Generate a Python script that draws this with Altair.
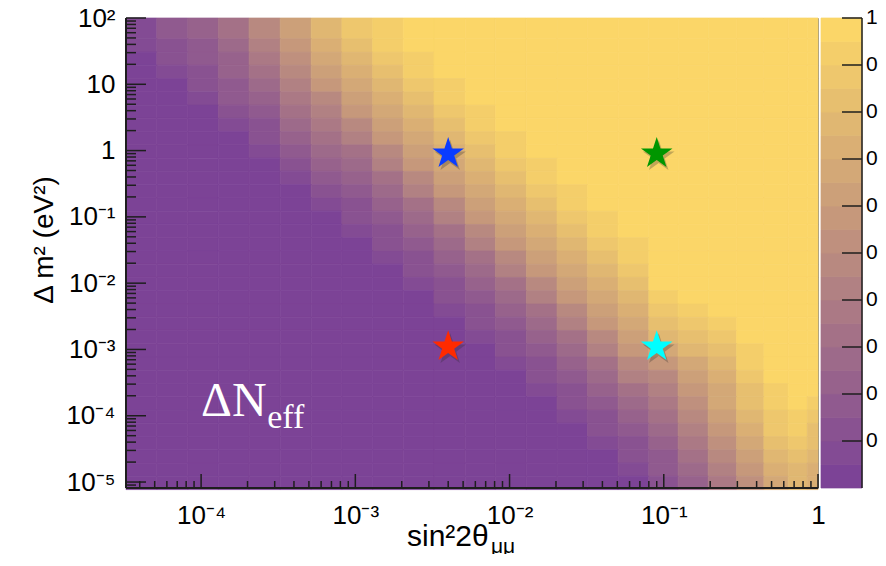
import altair as alt
import pandas as pd

# ---------------- data ----------------
# bin edges of the histogram, log10(sin^2 2theta), left -> right
x_edges_log = [-4.487, -4.287, -4.086, -3.888, -3.689, -3.487, -3.286, -3.087,
               -2.888, -2.689, -2.490, -2.287, -2.092, -1.891, -1.692, -1.495,
               -1.296, -1.097, -0.907, -0.712, -0.528, -0.351, -0.193, -0.070, 0.0]
# bin edges, log10(dm^2 / eV^2), top -> bottom
y_edges_log = [2.086, 1.686, 1.486, 1.286, 1.086, 0.886, 0.686, 0.486, 0.286, 0.086,
               -0.114, -0.314, -0.514, -0.714, -0.914, -1.114, -1.314, -1.514, -1.714, -1.914,
               -2.114, -2.314, -2.514, -2.714, -2.914, -3.114, -3.314, -3.514, -3.714, -3.914,
               -4.114, -4.314, -4.514, -4.714, -4.914, -5.114]
# Delta N_eff in percent; rows top -> bottom, columns left -> right
dneff_pct = [
    [7, 17, 22, 32, 47, 62, 77, 87, 92, 100, 100, 100, 100, 100, 100, 100, 100, 100, 100, 100, 100, 100, 100, 100],
    [7, 12, 17, 27, 42, 57, 72, 82, 92, 100, 100, 100, 100, 100, 100, 100, 100, 100, 100, 100, 100, 100, 100, 100],
    [0, 12, 17, 22, 37, 52, 67, 77, 87, 92, 100, 100, 100, 100, 100, 100, 100, 100, 100, 100, 100, 100, 100, 100],
    [0, 7, 12, 22, 32, 47, 62, 72, 82, 92, 100, 100, 100, 100, 100, 100, 100, 100, 100, 100, 100, 100, 100, 100],
    [0, 0, 12, 17, 27, 42, 57, 67, 77, 87, 92, 100, 100, 100, 100, 100, 100, 100, 100, 100, 100, 100, 100, 100],
    [0, 0, 7, 17, 22, 37, 47, 62, 72, 82, 92, 100, 100, 100, 100, 100, 100, 100, 100, 100, 100, 100, 100, 100],
    [0, 0, 0, 12, 17, 32, 42, 57, 67, 77, 87, 92, 100, 100, 100, 100, 100, 100, 100, 100, 100, 100, 100, 100],
    [0, 0, 0, 7, 12, 27, 37, 47, 62, 72, 82, 92, 100, 100, 100, 100, 100, 100, 100, 100, 100, 100, 100, 100],
    [0, 0, 0, 0, 12, 22, 32, 42, 57, 67, 77, 87, 92, 100, 100, 100, 100, 100, 100, 100, 100, 100, 100, 100],
    [0, 0, 0, 0, 7, 17, 27, 32, 47, 62, 72, 82, 92, 100, 100, 100, 100, 100, 100, 100, 100, 100, 100, 100],
    [0, 0, 0, 0, 0, 12, 22, 27, 42, 57, 67, 77, 87, 92, 100, 100, 100, 100, 100, 100, 100, 100, 100, 100],
    [0, 0, 0, 0, 0, 7, 17, 22, 32, 47, 62, 72, 82, 92, 100, 100, 100, 100, 100, 100, 100, 100, 100, 100],
    [0, 0, 0, 0, 0, 0, 12, 17, 27, 42, 57, 67, 77, 87, 92, 100, 100, 100, 100, 100, 100, 100, 100, 100],
    [0, 0, 0, 0, 0, 0, 7, 12, 22, 32, 47, 62, 72, 82, 92, 100, 100, 100, 100, 100, 100, 100, 100, 100],
    [0, 0, 0, 0, 0, 0, 0, 12, 17, 27, 42, 57, 67, 77, 87, 92, 100, 100, 100, 100, 100, 100, 100, 100],
    [0, 0, 0, 0, 0, 0, 0, 7, 12, 22, 32, 47, 62, 72, 82, 92, 100, 100, 100, 100, 100, 100, 100, 100],
    [0, 0, 0, 0, 0, 0, 0, 0, 12, 17, 27, 42, 57, 67, 77, 87, 92, 100, 100, 100, 100, 100, 100, 100],
    [0, 0, 0, 0, 0, 0, 0, 0, 7, 12, 22, 32, 47, 62, 72, 82, 92, 100, 100, 100, 100, 100, 100, 100],
    [0, 0, 0, 0, 0, 0, 0, 0, 0, 12, 17, 27, 42, 57, 67, 77, 87, 100, 100, 100, 100, 100, 100, 100],
    [0, 0, 0, 0, 0, 0, 0, 0, 0, 7, 12, 22, 32, 47, 62, 72, 82, 100, 100, 100, 100, 100, 100, 100],
    [0, 0, 0, 0, 0, 0, 0, 0, 0, 0, 12, 17, 27, 42, 57, 67, 77, 92, 100, 100, 100, 100, 100, 100],
    [0, 0, 0, 0, 0, 0, 0, 0, 0, 0, 7, 12, 22, 32, 47, 62, 72, 87, 92, 100, 100, 100, 100, 100],
    [0, 0, 0, 0, 0, 0, 0, 0, 0, 0, 0, 12, 17, 27, 42, 57, 67, 82, 87, 92, 100, 100, 100, 100],
    [0, 0, 0, 0, 0, 0, 0, 0, 0, 0, 0, 7, 12, 22, 32, 47, 62, 77, 82, 87, 100, 100, 100, 100],
    [0, 0, 0, 0, 0, 0, 0, 0, 0, 0, 0, 0, 12, 17, 27, 42, 57, 67, 77, 82, 92, 100, 100, 100],
    [0, 0, 0, 0, 0, 0, 0, 0, 0, 0, 0, 0, 7, 12, 22, 32, 47, 57, 67, 77, 92, 100, 100, 100],
    [0, 0, 0, 0, 0, 0, 0, 0, 0, 0, 0, 0, 0, 12, 17, 27, 42, 47, 62, 72, 87, 100, 100, 100],
    [0, 0, 0, 0, 0, 0, 0, 0, 0, 0, 0, 0, 0, 7, 12, 22, 32, 42, 57, 67, 82, 92, 100, 100],
    [0, 0, 0, 0, 0, 0, 0, 0, 0, 0, 0, 0, 0, 0, 12, 17, 27, 37, 52, 67, 82, 92, 100, 92],
    [0, 0, 0, 0, 0, 0, 0, 0, 0, 0, 0, 0, 0, 0, 7, 12, 22, 32, 47, 62, 77, 87, 92, 87],
    [0, 0, 0, 0, 0, 0, 0, 0, 0, 0, 0, 0, 0, 0, 0, 12, 17, 27, 42, 57, 72, 87, 92, 82],
    [0, 0, 0, 0, 0, 0, 0, 0, 0, 0, 0, 0, 0, 0, 0, 7, 12, 22, 37, 52, 67, 82, 87, 82],
    [0, 0, 0, 0, 0, 0, 0, 0, 0, 0, 0, 0, 0, 0, 0, 0, 12, 17, 32, 47, 62, 77, 82, 77],
    [0, 0, 0, 0, 0, 0, 0, 0, 0, 0, 0, 0, 0, 0, 0, 0, 7, 17, 27, 42, 57, 72, 77, 72],
    [0, 0, 0, 0, 0, 0, 0, 0, 0, 0, 0, 0, 0, 0, 0, 0, 0, 12, 22, 37, 52, 67, 77, 72],
]

x_domain_log = [-4.487, 0.0]
y_domain_log = [-5.09, 2.0]

x_major = [1e-4, 1e-3, 1e-2, 1e-1, 1.0]
x_major_labels = ["10⁻⁴", "10⁻³", "10⁻²", "10⁻¹", "1"]
y_major = [1e-5, 1e-4, 1e-3, 1e-2, 1e-1, 1.0, 10.0, 100.0]
y_major_labels = ["10⁻⁵", "10⁻⁴", "10⁻³", "10⁻²", "10⁻¹", "1", "10", "10²"]
cbar_ticks = [0.1, 0.2, 0.3, 0.4, 0.5, 0.6, 0.7, 0.8, 0.9, 1.0]
cbar_edges = [0.0, 0.05, 0.1, 0.15, 0.2, 0.25, 0.3, 0.35, 0.4, 0.45, 0.5,
              0.55, 0.6, 0.65, 0.7, 0.75, 0.8, 0.85, 0.9, 0.95, 1.0]

star_x = [0.004, 0.09, 0.004, 0.09]
star_y = [0.9, 0.9, 0.0011, 0.0011]
star_color = ["#0a3cff", "#009600", "#ff2a00", "#00ffff"]

# ---------------- build tables ----------------
if len(dneff_pct) != len(y_edges_log) - 1 or any(len(r) != len(x_edges_log) - 1 for r in dneff_pct):
    raise ValueError("matrix shape mismatch")

X0, X1 = 10 ** x_domain_log[0], 10 ** x_domain_log[1]
Y0, Y1 = 10 ** y_domain_log[0], 10 ** y_domain_log[1]

cells = []
for r, row in enumerate(dneff_pct):
    for c, p in enumerate(row):
        cells.append({
            "x1": 10 ** x_edges_log[c], "x2": 10 ** x_edges_log[c + 1],
            "y1": 10 ** y_edges_log[r + 1], "y2": min(10 ** y_edges_log[r], Y1),
            "v": p / 100.0,
        })
cells = pd.DataFrame(cells)


def cbar_pos(v):
    # the colour bar spans the full height of the frame, linear in Delta N_eff
    return 10 ** (y_domain_log[0] + v * (y_domain_log[1] - y_domain_log[0]))


cbar_df = pd.DataFrame({
    "c1": [cbar_pos(a) for a in cbar_edges[:-1]],
    "c2": [cbar_pos(b) for b in cbar_edges[1:]],
    "v": [(a + b) / 2 for a, b in zip(cbar_edges[:-1], cbar_edges[1:])],
})
cbar_tick_df = pd.DataFrame({
    "cy": [cbar_pos(t) for t in cbar_ticks],
    "lab": ["%g" % t for t in cbar_ticks],
})
star_df = pd.DataFrame({"sx": star_x, "sy": star_y, "col": star_color})

# minor tick positions (2..9 x 10^k inside the axis ranges)
x_minor = [k * 10.0 ** e for e in range(-5, 0) for k in range(2, 10) if X0 <= k * 10.0 ** e <= X1]
y_minor = [k * 10.0 ** e for e in range(-6, 2) for k in range(2, 10) if Y0 <= k * 10.0 ** e <= Y1]

# ---------------- style ----------------
W, H = 692, 470
FONT = "Liberation Sans"
TICK = "#1e1e1e"
purple = (124, 67, 150)
yellow = (251, 214, 104)
palette = ["#%02x%02x%02x" % tuple(int(round(p + (y - p) * i / 19.0)) for p, y in zip(purple, yellow))
           for i in range(20)]
# five-pointed star, unit outer radius
STAR = ("M0,-1L0.2245,-0.309L0.9511,-0.309L0.3633,0.118L0.5878,0.809L0,0.382"
        "L-0.5878,0.809L-0.3633,0.118L-0.9511,-0.309L-0.2245,-0.309Z")

xs = alt.Scale(type="log", domain=[X0, X1], nice=False)
ys = alt.Scale(type="log", domain=[Y0, Y1], nice=False)
cscale = alt.Scale(type="quantize", domain=[0, 1], range=palette)


def label_expr(values, labels):
    parts = []
    for v, lab in zip(values, labels):
        parts.append("abs(datum.value / %r - 1) < 0.001 ? '%s'" % (v, lab))
    return " : ".join(parts) + " : ''"


x_axis = alt.Axis(orient="bottom", values=x_major, labelExpr=label_expr(x_major, x_major_labels),
                  ticks=False, tickSize=0, labelPadding=35, labelBaseline="alphabetic",
                  labelFontSize=26, labelFont=FONT, labelColor="black",
                  labelFlush=False, labelOverlap=False, domain=False, grid=False, title=None)
y_axis = alt.Axis(orient="left", values=y_major, labelExpr=label_expr(y_major, y_major_labels),
                  ticks=False, tickSize=0, labelPadding=11, labelAlign="right",
                  labelBaseline="middle", labelFontSize=26, labelFont=FONT,
                  labelColor="black", labelFlush=False, labelOverlap=False,
                  domain=False, grid=False, title=None)


def X(field):
    return alt.X(field, scale=xs, axis=x_axis)


def Y(field):
    return alt.Y(field, scale=ys, axis=y_axis)


# ---------------- layers ----------------
heat = alt.Chart(cells).mark_rect(strokeWidth=0.7).encode(
    x=X("x1:Q"), x2="x2:Q", y=Y("y1:Q"), y2="y2:Q",
    color=alt.Color("v:Q", scale=cscale, legend=None),
    stroke=alt.Stroke("v:Q", scale=cscale, legend=None),
)


def x_ticks(values, length):
    return alt.Chart(pd.DataFrame({"t": values})).mark_rule(color=TICK, strokeWidth=1.5).encode(
        x=X("t:Q"), y=alt.value(H - length), y2=alt.value(H))


def y_ticks(values, length):
    return alt.Chart(pd.DataFrame({"t": values})).mark_rule(color=TICK, strokeWidth=1.5).encode(
        y=Y("t:Q"), x=alt.value(0), x2=alt.value(length))


star_shadow = alt.Chart(star_df).mark_point(shape=STAR, filled=True, size=1100, opacity=0.28,
                                            strokeWidth=0, color="#2a2a2a",
                                            xOffset=2, yOffset=3).encode(
    x=X("sx:Q"), y=Y("sy:Q"))
stars = alt.Chart(star_df).mark_point(shape=STAR, filled=True, size=1100, opacity=1,
                                      strokeWidth=0).encode(
    x=X("sx:Q"), y=Y("sy:Q"),
    color=alt.Color("col:N", scale=None, legend=None),
)

ann_big = alt.Chart(pd.DataFrame({"ax": [1.0e-4], "ay": [1.0e-4]})).mark_text(
    text="ΔN", font="Liberation Serif", fontSize=48, align="left",
    baseline="alphabetic", color="white").encode(x=X("ax:Q"), y=Y("ay:Q"))
ann_sub = alt.Chart(pd.DataFrame({"ax": [2.68e-4], "ay": [6.6e-5]})).mark_text(
    text="eff", font="Liberation Serif", fontSize=34, align="left",
    baseline="alphabetic", color="white").encode(x=X("ax:Q"), y=Y("ay:Q"))

one = pd.DataFrame({"k": [0]})
left_line = alt.Chart(one).mark_rule(color=TICK, strokeWidth=2).encode(
    x=alt.value(0), y=alt.value(0), y2=alt.value(H))
bottom_line = alt.Chart(one).mark_rule(color=TICK, strokeWidth=2).encode(
    x=alt.value(0), x2=alt.value(W), y=alt.value(H))

cbar = alt.Chart(cbar_df).mark_rect(strokeWidth=0.7).encode(
    x=alt.value(695), x2=alt.value(736),
    y=Y("c1:Q"), y2="c2:Q",
    color=alt.Color("v:Q", scale=cscale, legend=None),
    stroke=alt.Stroke("v:Q", scale=cscale, legend=None),
)
cbar_tick_marks = alt.Chart(cbar_tick_df).mark_rule(color=TICK, strokeWidth=1.5).encode(
    y=Y("cy:Q"), x=alt.value(716), x2=alt.value(736))
cbar_labels = alt.Chart(cbar_tick_df).mark_text(
    font=FONT, fontSize=21, align="left", baseline="middle", color="black").encode(
    y=Y("cy:Q"), x=alt.value(740), text="lab:N")
cbar_line = alt.Chart(one).mark_rule(color=TICK, strokeWidth=1.5).encode(
    x=alt.value(736), y=alt.value(0), y2=alt.value(H))

x_title = alt.Chart(one).mark_text(text="sin²2θ", font=FONT, fontSize=30, align="left",
                                   baseline="alphabetic", color="black").encode(
    x=alt.value(281), y=alt.value(528))
x_title_sub = alt.Chart(one).mark_text(text="μμ", font=FONT, fontSize=21, align="left",
                                       baseline="alphabetic", color="black").encode(
    x=alt.value(365), y=alt.value(535))
y_title = alt.Chart(one).mark_text(text="Δ m² (eV²)", font=FONT, fontSize=28, angle=270,
                                   align="center", baseline="alphabetic", color="black").encode(
    x=alt.value(-73), y=alt.value(222))

chart = alt.layer(
    heat, star_shadow, stars, ann_big, ann_sub,
    x_ticks(x_major, 14), x_ticks(x_minor, 7), y_ticks(y_major, 20), y_ticks(y_minor, 10),
    left_line, bottom_line,
    cbar, cbar_tick_marks, cbar_labels, cbar_line,
    x_title, x_title_sub, y_title,
).properties(
    width=W, height=H,
    padding={"left": 118, "top": 10, "right": 60, "bottom": 66},
    autosize=alt.AutoSizeParams(type="none"),
    background="white",
).configure_view(stroke="#8a8a8a", strokeWidth=1)

chart.save("out.html", embed_options={"renderer": "svg", "actions": False})
